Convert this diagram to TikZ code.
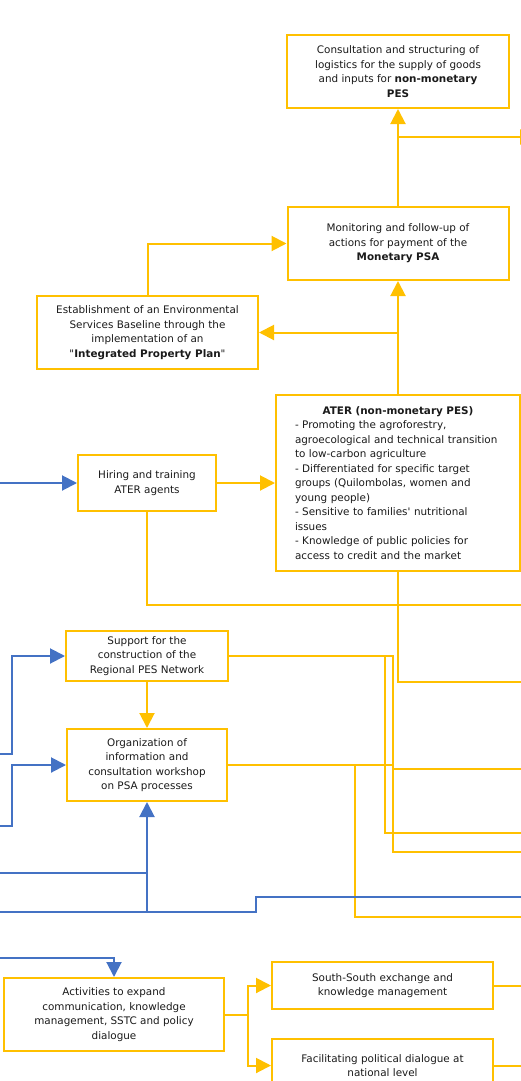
\documentclass[tikz,border=0pt]{standalone}
\usepackage{fontspec}
\setmainfont{DejaVu Sans}
\usetikzlibrary{arrows.meta}
\definecolor{ylw}{HTML}{FFC000}
\definecolor{blu}{HTML}{4472C4}
\definecolor{txt}{HTML}{1A1A1A}
\begin{document}
\begin{tikzpicture}[x=1pt,y=-1pt,
  box/.style={draw=ylw, line width=2pt, inner sep=0pt, align=center, text=txt,
    font=\fontsize{10.4}{14.5}\selectfont},
  yl/.style={draw=ylw, line width=2pt},
  bl/.style={draw=blu, line width=2pt},
  tip/.style={-{Triangle[length=15pt,width=15pt]}}
]
\useasboundingbox (0,0) rectangle (521,1081);
\clip (0,0) rectangle (521,1081);

% boxes
\node[box, minimum width=222pt, minimum height=73pt] (cons) at (398,71.5)
  {Consultation and structuring of\\logistics for the supply of goods\\and inputs for \textbf{non-monetary}\\\textbf{PES}};
\node[box, minimum width=221pt, minimum height=73pt] (mon) at (398,243.5)
  {Monitoring and follow-up of\\actions for payment of the\\\textbf{Monetary PSA}};
\node[box, minimum width=221pt, minimum height=73pt] (est) at (147.5,332.5)
  {Establishment of an Environmental\\Services Baseline through the\\implementation of an\\\textquotedbl\textbf{Integrated Property Plan}\textquotedbl};
\node[box, minimum width=244pt, minimum height=176pt, text width=206pt, align=left] (ater) at (398,483)
  {\makebox[\linewidth][c]{\textbf{ATER (non-monetary PES)}}\\
   - Promoting the agroforestry,\\
   agroecological and technical transition\\
   to low-carbon agriculture\\
   - Differentiated for specific target\\
   groups (Quilombolas, women and\\
   young people)\\
   - Sensitive to families\textquotesingle{} nutritional\\
   issues\\
   - Knowledge of public policies for\\
   access to credit and the market};
\node[box, minimum width=138pt, minimum height=56pt] (hir) at (147,483)
  {Hiring and training\\ATER agents};
\node[box, minimum width=162pt, minimum height=50pt] (sup) at (147,656)
  {Support for the\\construction of the\\Regional PES Network};
\node[box, minimum width=160pt, minimum height=72pt] (org) at (147,765)
  {Organization of\\information and\\consultation workshop\\on PSA processes};
\node[box, minimum width=220pt, minimum height=73pt] (act) at (114,1014.5)
  {Activities to expand\\communication, knowledge\\management, SSTC and policy\\dialogue};
\node[box, minimum width=221pt, minimum height=47pt] (ss) at (382.5,985.5)
  {South-South exchange and\\knowledge management};
\node[box, minimum width=221pt, minimum height=53pt] (fac) at (382.5,1065.5)
  {Facilitating political dialogue at\\national level};

% free ends
\coordinate (j1) at (398,137);
\coordinate (e1) at (535,137);
\coordinate (j2) at (398,332.5);
\coordinate (o1) at (521,605);
\coordinate (o2) at (521,682);
\coordinate (o4) at (521,769);
\coordinate (o5) at (521,833);
\coordinate (o6) at (521,852);
\coordinate (o7) at (521,917);
\coordinate (o8) at (521,985.5);
\coordinate (o9) at (521,1065.5);
\coordinate (bin1) at (0,483);
\coordinate (bin2) at (0,754);
\coordinate (bin3) at (0,826);
\coordinate (bin4) at (0,873);
\coordinate (bin5) at (0,912);
\coordinate (bin6) at (521,897);
\coordinate (bin7) at (0,958);

% yellow connectors
\draw[yl,tip] (mon.north) -- (cons.south);
\draw[yl,tip] (j1) -- (e1);
\draw[yl,tip] (est.north) |- (mon.west);
\draw[yl,tip] (ater.north) -- (mon.south);
\draw[yl,tip] (j2) -- (est.east);
\draw[yl,tip] (hir.east) -- (ater.west);
\draw[yl] (hir.south) |- (o1);
\draw[yl] (ater.south) |- (o2);
\draw[yl] (sup.east) -- (393,656) -- (393,852) -- (o6);
\draw[yl] (sup.east) -| (385,833) -- (o5);
\draw[yl,tip] (sup.south) -- (org.north);
\draw[yl] (org.east) -- (393,765) -- (393,769) -- (o4);
\draw[yl] (org.east) -| (355,917) -- (o7);
\draw[yl,tip] (act.east) -- (248,1014.5) |- (ss.west);
\draw[yl,tip] (act.east) -- (248,1014.5) |- (fac.west);
\draw[yl] (ss.east) -- (o8);
\draw[yl] (fac.east) -- (o9);

% blue connectors
\draw[bl,tip] (bin1) -- (hir.west);
\draw[bl,tip] (bin2) -- (12,754) |- (sup.west);
\draw[bl,tip] (bin3) -- (12,826) |- (org.west);
\draw[bl] (bin4) -- (147,873);
\draw[bl,tip] (bin5) -- (147,912) -- (org.south);
\draw[bl] (bin6) -- (256,897) -- (256,912) -- (147,912);
\draw[bl,tip] (bin7) -| (act.north);
\end{tikzpicture}
\end{document}
